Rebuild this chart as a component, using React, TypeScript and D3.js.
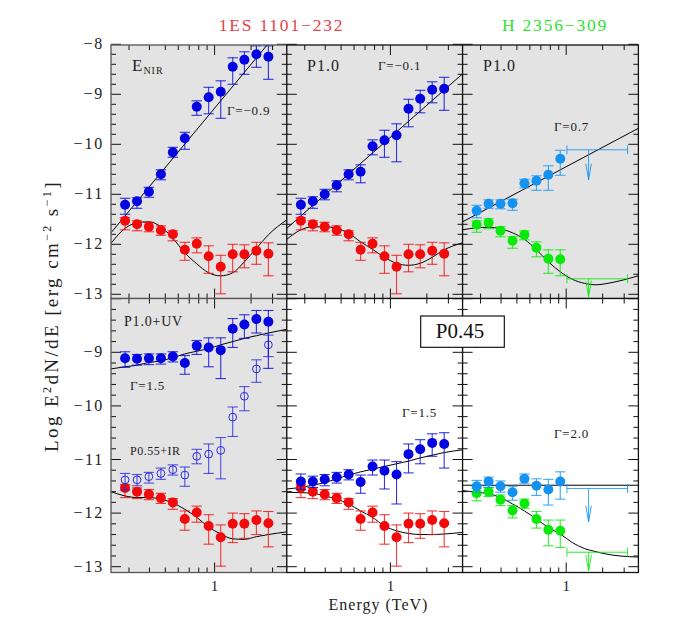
import React from 'react';
import * as d3 from 'd3';

// photon energies of the spectral bins (TeV)
const energies = [0.284, 0.336, 0.397, 0.47, 0.556, 0.658, 0.778, 0.92, 1.09, 1.29, 1.52, 1.8, 2.13];
// same bins plus the two panel edges, the model curves are read on these
const curveEnergies = [0.233, ...energies, 2.76];

type Pt = [number, number, number]; // value, upper, lower

const redObs: Pt[] = [[-11.53,-11.47,-11.71],[-11.6,-11.53,-11.73],[-11.65,-11.56,-11.75],[-11.72,-11.63,-11.82],[-11.8,-11.73,-11.93],[-12.11,-11.96,-12.32],[-11.99,-11.87,-12.17],[-12.24,-12.03,-12.58],[-12.45,-12.22,-12.99],[-12.2,-12.0,-12.55],[-12.2,-12.01,-12.47],[-12.13,-11.96,-12.4],[-12.19,-11.97,-12.63]];

const blueEnir: Pt[] = [[-11.21,-11.08,-11.4],[-11.14,-11.07,-11.28],[-10.95,-10.86,-11.06],[-10.6,-10.51,-10.71],[-10.16,-10.06,-10.26],[-9.88,-9.76,-10.1],[-9.25,-9.13,-9.42],[-9.06,-8.86,-9.39],[-8.95,-8.73,-9.48],[-8.45,-8.27,-8.8],[-8.31,-8.15,-8.6],[-8.2,-8.03,-8.46],[-8.25,-8.03,-8.7]];
const blueP10: Pt[] = [[-11.21,-11.08,-11.4],[-11.14,-11.05,-11.28],[-11.0,-10.9,-11.11],[-10.82,-10.73,-10.95],[-10.6,-10.51,-10.71],[-10.55,-10.41,-10.77],[-10.04,-9.91,-10.21],[-9.92,-9.72,-10.26],[-9.82,-9.59,-10.35],[-9.29,-9.1,-9.65],[-9.09,-8.92,-9.37],[-8.91,-8.75,-9.17],[-8.89,-8.66,-9.32]];
const blueUv: Pt[] = [[-9.11,-8.99,-9.28],[-9.12,-9.04,-9.24],[-9.11,-9.03,-9.23],[-9.11,-9.03,-9.22],[-9.08,-8.99,-9.18],[-9.2,-9.06,-9.41],[-8.88,-8.78,-9.04],[-8.91,-8.73,-9.27],[-8.96,-8.73,-9.49],[-8.56,-8.37,-8.91],[-8.48,-8.3,-8.74],[-8.38,-8.22,-8.64],[-8.43,-8.22,-9.3]];
const openIr: Pt[] = [[-11.38,-11.26,-11.57],[-11.38,-11.28,-11.49],[-11.32,-11.24,-11.44],[-11.26,-11.16,-11.37],[-11.19,-11.1,-11.29],[-11.29,-11.14,-11.5],[-10.94,-10.81,-11.08],[-10.9,-10.71,-11.26],[-10.83,-10.59,-11.36],[-10.21,-10.02,-10.57],[-9.82,-9.64,-10.09],[-9.31,-9.14,-9.56],[-8.86,-8.68,-9.08]];
const blueP045: Pt[] = [[-11.41,-11.27,-11.56],[-11.41,-11.31,-11.52],[-11.37,-11.28,-11.49],[-11.33,-11.24,-11.44],[-11.28,-11.19,-11.38],[-11.42,-11.29,-11.63],[-11.13,-11.01,-11.29],[-11.21,-11.01,-11.55],[-11.28,-11.04,-11.83],[-10.9,-10.71,-11.25],[-10.81,-10.63,-11.08],[-10.69,-10.52,-10.94],[-10.71,-10.5,-11.16]];

const lightP10: Pt[] = [[-11.33,-11.22,-11.47],[-11.19,-11.11,-11.28],[-11.19,-11.11,-11.29],[-11.18,-11.1,-11.32],[-10.78,-10.7,-10.87],[-10.73,-10.63,-10.92],[-10.61,-10.43,-10.92],[-10.29,-10.12,-10.62]];
const greenP10: Pt[] = [[-11.61,-11.53,-11.76],[-11.57,-11.49,-11.69],[-11.73,-11.65,-11.85],[-11.93,-11.85,-12.08],[-11.81,-11.73,-11.91],[-12.07,-11.95,-12.25],[-12.29,-12.11,-12.58],[-12.3,-12.11,-12.63]];
const lightP045: Pt[] = [[-11.5,-11.39,-11.61],[-11.41,-11.33,-11.52],[-11.5,-11.4,-11.61],[-11.61,-11.5,-11.76],[-11.36,-11.27,-11.44],[-11.49,-11.36,-11.67],[-11.56,-11.37,-11.85],[-11.41,-11.23,-11.74]];
const greenP045: Pt[] = [[-11.63,-11.54,-11.77],[-11.6,-11.52,-11.69],[-11.75,-11.66,-11.86],[-11.95,-11.86,-12.09],[-11.82,-11.74,-11.91],[-12.11,-11.97,-12.28],[-12.31,-12.13,-12.61],[-12.33,-12.13,-12.64]];

// model curves
const curveEnir = [-11.98,-11.68,-11.57,-11.55,-11.65,-11.88,-12.17,-12.39,-12.57,-12.63,-12.57,-12.35,-12.08,-11.81,-11.51];
const curveP10 = [-11.9,-11.71,-11.65,-11.65,-11.68,-11.78,-11.95,-12.1,-12.26,-12.38,-12.42,-12.38,-12.26,-12.11,-11.97];
const curveH10 = [-11.71,-11.67,-11.66,-11.69,-11.77,-11.9,-12.11,-12.35,-12.55,-12.7,-12.78,-12.81,-12.78,-12.73,-12.63];
const curveUv = [-11.6,-11.68,-11.71,-11.71,-11.74,-11.81,-11.93,-12.08,-12.26,-12.39,-12.48,-12.49,-12.44,-12.4,-12.35];
const curveP045 = [-11.61,-11.62,-11.63,-11.68,-11.74,-11.83,-11.96,-12.08,-12.24,-12.33,-12.38,-12.4,-12.4,-12.39,-12.36];
const curveH045 = [-11.58,-11.61,-11.64,-11.71,-11.83,-11.96,-12.11,-12.27,-12.39,-12.55,-12.66,-12.72,-12.77,-12.8,-12.82];

// intrinsic power laws
const lawEnir = [-11.77, -7.54];
const lawP10 = [-11.68, -8.59];
const lawH10 = [-11.55, -9.68];
const lawUv = [-9.31,-9.27,-9.24,-9.19,-9.16,-9.1,-9.03,-8.98,-8.93,-8.86,-8.8,-8.74,-8.69,-8.64,-8.57];
const lawP045 = [-11.55,-11.52,-11.48,-11.43,-11.36,-11.29,-11.23,-11.18,-11.13,-11.08,-11.03,-10.97,-10.92,-10.87,-10.82];
const lawH045 = [-11.48, -11.48];

const limitRange = [1.01, 1.37, 2.37]; // start, arrow, end
const majorY = [-8, -9, -10, -11, -12, -13];
const topLabels = [-8, -9, -10, -11, -12, -13];
const bottomLabels = [-9, -10, -11, -12, -13];
const minorX = [0.3, 0.4, 0.5, 0.6, 0.7, 0.8, 0.9, 1.67, 2.26];

const RED = '#f20a0a';
const BLUE = '#0404e0';
const LIGHT = '#1492f2';
const GREEN = '#08ea08';
const SERIF = '"Liberation Serif", serif';

const panelW = 175.8;
const left = 111;
const rowTop = { top: 45, bottom: 298.5 };
const rowEnd = { top: 298.5, bottom: 572.5 };

const minus = (v: number) => `\u2212${Math.abs(v)}`;

const yTop = d3.scaleLinear().domain([-8, -13]).range([44.3, 294.3]);
const yBottom = d3.scaleLinear().domain([-8, -13]).range([298.7, 566.7]);

type Series = { data: Pt[]; color: string; open?: boolean };
type Limit = { value: number; tip: number; color: string };
type PanelProps = {
  col: number;
  row: 'top' | 'bottom';
  gray: boolean;
  series: Series[];
  laws: number[][];
  limits?: Limit[];
};

const Panel: React.FC<PanelProps> = ({ col, row, gray, series, laws, limits }) => {
  const x0 = left + col * panelW;
  const x1 = x0 + panelW;
  const y0 = rowTop[row];
  const y1 = rowEnd[row];
  const y = row === 'top' ? yTop : yBottom;
  const x = d3.scaleLog().domain([0.233, 2.76]).range([x0, x1]);
  const id = `clip-${row}-${col}`;

  const line = d3.line<[number, number]>().x((d) => x(d[0])).y((d) => y(d[1])).curve(d3.curveMonotoneX);
  const lawPath = (l: number[]) => {
    const es = l.length === 2 ? [0.233, 2.76] : curveEnergies;
    return line(l.map((v, i) => [es[i], v] as [number, number])) || '';
  };

  const minorY = d3.range(-13, -7.9, 0.2).map((v) => +v.toFixed(1)).filter((v) => !Number.isInteger(v) && y(v) > y0 && y(v) < y1);
  const yMajors = majorY.filter((v) => y(v) >= y0 - 1 && y(v) <= y1);

  return (
    <g>
      <clipPath id={id}><rect x={x0} y={y0} width={panelW} height={y1 - y0} /></clipPath>
      <rect x={x0} y={y0} width={panelW} height={y1 - y0} fill={gray ? '#e3e3e3' : '#fff'} />
      <g clipPath={`url(#${id})`} fill="none" stroke="#000" strokeWidth={1}>
        {laws.map((l, i) => <path key={i} d={lawPath(l)} />)}
      </g>
      {/* axis ticks on all four sides */}
      <g stroke="#111" strokeWidth={1}>
        {minorX.map((e) => (
          <g key={e}>
            <line x1={x(e)} x2={x(e)} y1={y1} y2={y1 - 5} />
            <line x1={x(e)} x2={x(e)} y1={y0} y2={y0 + 5} />
          </g>
        ))}
        <line x1={x(1)} x2={x(1)} y1={y1} y2={y1 - 10} />
        <line x1={x(1)} x2={x(1)} y1={y0} y2={y0 + 10} />
        {yMajors.map((v) => (
          <g key={v}>
            <line x1={x0} x2={x0 + 10} y1={y(v)} y2={y(v)} />
            <line x1={x1} x2={x1 - 10} y1={y(v)} y2={y(v)} />
          </g>
        ))}
        {minorY.map((v) => (
          <g key={v}>
            <line x1={x0} x2={x0 + 5} y1={y(v)} y2={y(v)} />
            <line x1={x1} x2={x1 - 5} y1={y(v)} y2={y(v)} />
          </g>
        ))}
      </g>
      {limits?.map((l, i) => (
        <g key={i} stroke={l.color} strokeWidth={1} strokeOpacity={0.85} fill="none">
          <line x1={x(limitRange[0])} x2={x(limitRange[2])} y1={y(l.value)} y2={y(l.value)} />
          <line x1={x(limitRange[0])} x2={x(limitRange[0])} y1={y(l.value) - 4.5} y2={y(l.value) + 4.5} />
          <line x1={x(limitRange[2])} x2={x(limitRange[2])} y1={y(l.value) - 4.5} y2={y(l.value) + 4.5} />
          <line x1={x(limitRange[1])} x2={x(limitRange[1])} y1={y(l.value)} y2={y(l.tip)} />
          <path d={`M${x(limitRange[1]) - 2.8},${y(l.tip) - 16}L${x(limitRange[1])},${y(l.tip)}L${x(limitRange[1]) + 2.8},${y(l.tip) - 16}`} />
        </g>
      ))}
      {series.map((s, si) => (
        <g key={si}>
          {s.data.map((d, i) => {
            const px = x(energies[i]);
            return (
              <g key={i} stroke={s.color} strokeWidth={1.1} strokeOpacity={0.8}>
                <line x1={px} x2={px} y1={y(d[1])} y2={y(d[2])} />
                <line x1={px - 5.2} x2={px + 5.2} y1={y(d[1])} y2={y(d[1])} />
                <line x1={px - 5.2} x2={px + 5.2} y1={y(d[2])} y2={y(d[2])} />
              </g>
            );
          })}
          {s.data.map((d, i) =>
            s.open ? (
              <circle key={i} cx={x(energies[i])} cy={y(d[0])} r={3.9} fill="none" stroke={s.color} strokeWidth={1} />
            ) : (
              <circle key={i} cx={x(energies[i])} cy={y(d[0])} r={5} fill={s.color} />
            )
          )}
        </g>
      ))}
      <rect x={x0} y={y0} width={panelW} height={y1 - y0} fill="none" stroke={col === 0 ? '#555' : '#111'} strokeWidth={1.3} />
    </g>
  );
};

const Note: React.FC<{ x: number; y: number; size?: number; spacing?: number; children: React.ReactNode }> = ({ x, y, size = 13, spacing = 0.8, children }) => (
  <text x={x} y={y} fontSize={size} fill="#222" letterSpacing={spacing} fontFamily={SERIF}>{children}</text>
);

export default function App() {
  const colX = (c: number) => left + c * panelW;
  return (
    <svg width={692} height={640} style={{ position: 'absolute', left: 0, top: 0, background: '#fff' }} fontFamily={SERIF}>
      <Panel col={0} row="top" gray laws={[lawEnir, curveEnir]} series={[{ data: redObs, color: RED }, { data: blueEnir, color: BLUE }]} />
      <Panel col={1} row="top" gray laws={[lawP10, curveP10]} series={[{ data: redObs, color: RED }, { data: blueP10, color: BLUE }]} />
      <Panel col={2} row="top" gray laws={[lawH10, curveH10]}
        series={[{ data: greenP10, color: GREEN }, { data: lightP10, color: LIGHT }]}
        limits={[{ value: -10.11, tip: -10.71, color: LIGHT }, { value: -12.69, tip: -13.05, color: GREEN }]} />
      <Panel col={0} row="bottom" gray laws={[lawUv, curveUv]}
        series={[{ data: redObs, color: RED }, { data: openIr, color: '#2a2ae0', open: true }, { data: blueUv, color: BLUE }]} />
      <Panel col={1} row="bottom" gray={false} laws={[lawP045, curveP045]} series={[{ data: redObs, color: RED }, { data: blueP045, color: BLUE }]} />
      <Panel col={2} row="bottom" gray={false} laws={[lawH045, curveH045]}
        series={[{ data: greenP045, color: GREEN }, { data: lightP045, color: LIGHT }]}
        limits={[{ value: -11.54, tip: -12.16, color: LIGHT }, { value: -12.73, tip: -13.08, color: GREEN }]} />

      {/* source names */}
      <text x={281.5} y={31} textAnchor="middle" fontSize={17.5} letterSpacing={1.8} fill="#e8404a">1ES 1101{'\u2212'}232</text>
      <text x={555} y={31} textAnchor="middle" fontSize={17.5} letterSpacing={1.8} fill="#30e030">H 2356{'\u2212'}309</text>

      {/* y tick labels */}
      {topLabels.map((v) => (
        <text key={v} x={104} y={yTop(v) + 5} textAnchor="end" fontSize={16} letterSpacing={1.8} fill="#222">{minus(v)}</text>
      ))}
      {bottomLabels.map((v) => (
        <text key={v} x={104} y={yBottom(v) + 5} textAnchor="end" fontSize={16} letterSpacing={1.8} fill="#222">{minus(v)}</text>
      ))}
      {/* x tick labels */}
      {[0, 1, 2].map((c) => {
        const x = d3.scaleLog().domain([0.233, 2.76]).range([colX(c), colX(c) + panelW]);
        return <text key={c} x={x(1)} y={591} textAnchor="middle" fontSize={15} fill="#222">1</text>;
      })}

      <text x={378.5} y={610} textAnchor="middle" fontSize={16} letterSpacing={1} fill="#222">Energy (TeV)</text>
      <text transform="translate(58,316) rotate(-90)" textAnchor="middle" fontSize={19} letterSpacing={2.4} fill="#222">
        Log E<tspan dy={-7} fontSize={12}>2</tspan><tspan dy={7}>dN/dE  [erg cm</tspan><tspan dy={-7} fontSize={12}>{'\u2212'}2</tspan><tspan dy={7}> s</tspan><tspan dy={-7} fontSize={12}>{'\u2212'}1</tspan><tspan dy={7}>]</tspan>
      </text>

      {/* panel notes */}
      <Note x={132} y={71} size={17} spacing={1}>E<tspan dy={3} fontSize={10}>NIR</tspan></Note>
      <Note x={227} y={115}>{'\u0393=\u2212'}0.9</Note>
      <Note x={307} y={71} size={16} spacing={1}>P1.0</Note>
      <Note x={378} y={70}>{'\u0393=\u2212'}0.1</Note>
      <Note x={483} y={71} size={16} spacing={1}>P1.0</Note>
      <Note x={554} y={131}>{'\u0393'}=0.7</Note>
      <Note x={124} y={326} size={14}>P1.0+UV</Note>
      <Note x={130} y={390}>{'\u0393'}=1.5</Note>
      <Note x={130} y={455} size={12} spacing={0.5}>P0.55+IR</Note>
      <Note x={402} y={417}>{'\u0393'}=1.5</Note>
      <Note x={554} y={438}>{'\u0393'}=2.0</Note>

      <rect x={420.7} y={316} width={83.6} height={31.3} fill="#fff" stroke="#000" strokeWidth={1.1} />
      <text x={460} y={338} textAnchor="middle" fontSize={21} fill="#111">P0.45</text>
    </svg>
  );
}
